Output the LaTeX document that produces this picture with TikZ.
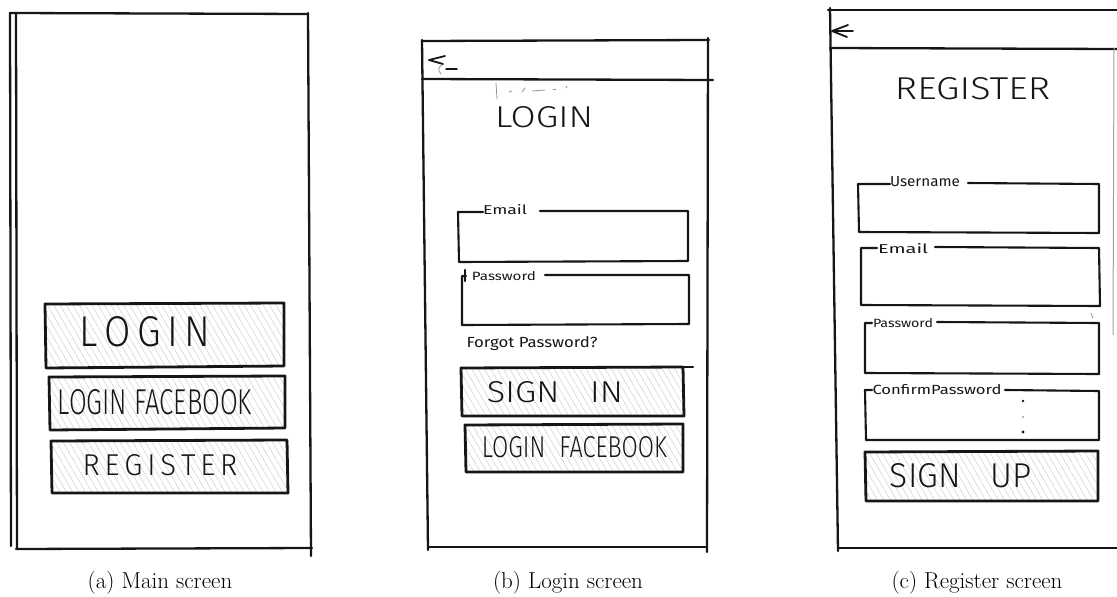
\documentclass[tikz,border=0pt]{standalone}
\usepackage{fontspec}
\usepackage{graphicx}
\usetikzlibrary{patterns.meta}
\IfFontExistsTF{Fira Sans Light}
  {\newfontfamily\hand{Fira Sans Light}}
  {\newfontfamily\hand{lmmonolt10-regular.otf}}
\newfontfamily\handsmall{Fira Sans}
\definecolor{inkc}{HTML}{161616}
\definecolor{hatchc}{HTML}{C6C6C6}
% handwritten lettering squeezed to a given width and cap height
\newcommand\hw[3]{\resizebox{#1pt}{#2pt}{\hand #3}}
% small field captions, written with a slightly heavier pen
\newcommand\hws[3]{\resizebox{#1pt}{#2pt}{\handsmall #3}}
\tikzset{
  ink/.style={draw=inkc, line cap=round, line join=round},
  frameline/.style={ink, line width=2.3pt},
  fieldline/.style={ink, line width=2.1pt},
  faint/.style={draw=inkc!45, line width=0.8pt, line cap=round},
  buttonbox/.style={ink, line width=2.8pt,
    pattern={Lines[angle=120,distance=5.5pt,line width=0.4pt]}, pattern color=hatchc},
  lbl/.style={inner sep=0pt, text=inkc},
  caption/.style={inner sep=0pt, anchor=base, font=\fontsize{23}{28}\selectfont}
}
\begin{document}
\begin{tikzpicture}[x=1pt, y=-1pt]
\useasboundingbox (0,0) rectangle (1117,597);

% ---------------- (a) main screen ----------------
\draw[frameline] (10,13) -- (11,546);
\draw[frameline] (16,14) -- (17,549);
\draw[frameline] (10,13) -- (308,14);
\draw[frameline] (308,13) -- (311,556);
\draw[frameline] (16,549) -- (312,548);

\draw[buttonbox] (45,304) -- (284,303) -- (284,366) -- (46,368) -- cycle;
\draw[buttonbox] (49,377) -- (285,376) -- (285,428) -- (50,430) -- cycle;
\draw[buttonbox] (51,441) -- (287,440) -- (288,493) -- (52,493) -- cycle;
\node[lbl] (aLogin) at (145,332) {\hw{130}{30}{L\,O\,G\,I\,N}};
\node[lbl] (aFacebook) at (155,402.5) {\hw{194}{25}{LOGIN FACEBOOK}};
\node[lbl] (aRegister) at (160,465.5) {\hw{155}{21}{R\,E\,G\,I\,S\,T\,E\,R}};

\node[caption] (capA) at (160,588) {(a) Main screen};

% ---------------- (b) login screen ----------------
\draw[frameline] (422,41) -- (709,40);
\draw[frameline] (422,40) -- (428,550);
\draw[frameline] (708,38) -- (707,552);
\draw[frameline] (422,79) -- (713,80);
\draw[frameline] (428,547) -- (707,547);
% back arrow
\draw[ink, line width=1.8pt] (445,56) -- (429,60) -- (443,64);
\draw[ink, line width=1.5pt] (446,69) -- (457,69);
\draw[faint] (442,65) .. controls (438,67) and (438,71) .. (441,74);
% erased scribbles above the title
\draw[faint] (496,83) -- (497,99);
\draw[faint] (509,92) -- (512,91);
\draw[faint] (522,92) -- (525,88);
\draw[faint] (532,91) -- (545,90);
\draw[faint] (553,89) -- (556,89);
\draw[faint] (566,88) -- (567,86);
\node[lbl] (bTitle) at (544,117.5) {\hw{98}{21}{LOGIN}};

% email field
\draw[fieldline] (483,212) -- (458,212) -- (459,262) -- (688,261) -- (688,211) -- (540,211);
\node[lbl] (bEmail) at (505,210) {\hws{44}{10}{Email}};
% password field
\draw[fieldline] (465,270) -- (465,281);
\draw[fieldline] (466,276) -- (462,276) -- (462,325) -- (689,324) -- (689,275) -- (545,275);
\node[lbl] (bPassword) at (504,276) {\hws{64}{9}{Password}};
\node[lbl] (bForgot) at (532,344) {\hws{131}{11}{Forgot Password?}};

\draw[buttonbox] (461,368) -- (683,367) -- (684,416) -- (462,416) -- cycle;
\draw[fieldline] (683,367) -- (693,367);
\node[lbl] (bSignIn) at (555,392.5) {\hw{136}{21}{SIGN\hspace{0.9em}IN}};
\draw[buttonbox] (465,425) -- (683,424) -- (683,472) -- (466,472) -- cycle;
\node[lbl] (bFacebook) at (574.5,447.5) {\hw{185}{21}{LOGIN\hspace{0.6em}FACEBOOK}};

\node[caption] (capB) at (568,588) {(b) Login screen};

% ---------------- (c) register screen ----------------
\draw[frameline] (828,10) -- (1117,10);
\draw[frameline] (830,8) -- (838,551);
\draw[frameline] (830,48) -- (1117,49);
\draw[frameline] (838,548) -- (1117,548);
\draw[draw=inkc!40, line width=1pt] (1114,48) -- (1113,335);
% back arrow
\draw[ink, line width=1.8pt] (848,25) -- (832,31) -- (847,37);
\draw[ink, line width=1.5pt] (834,31) -- (853,31);
\node[lbl] (cTitle) at (972.5,89) {\hw{155}{22}{REGISTER}};

% username field
\draw[fieldline] (890,184) -- (858,184) -- (859,232) -- (1099,233) -- (1099,184) -- (968,183);
\node[lbl] (cUser) at (925,182) {\hws{70}{10}{Username}};
% email field
\draw[fieldline] (877,248) -- (861,248) -- (861,305) -- (1100,306) -- (1099,248) -- (935,247);
\node[lbl] (cEmail) at (903,249) {\hws{50}{10}{Email}};
% password field
\draw[fieldline] (872,323) -- (865,323) -- (865,373) -- (1099,374) -- (1099,323) -- (937,322);
\node[lbl] (cPassword) at (903,323) {\hws{60}{9}{Password}};
\draw[faint] (1091,313) -- (1093,318);
% confirm password field
\draw[fieldline] (872,390) -- (865,390) -- (866,440) -- (1099,440) -- (1099,391) -- (1005,390);
\node[lbl] (cConfirm) at (937,390) {\hws{129}{10}{ConfirmPassword}};
\fill[inkc] (1023,401) circle (1.3);
\fill[inkc!60] (1023,417) circle (0.9);
\fill[inkc] (1023,432) circle (1.6);

\draw[buttonbox] (865,452) -- (1098,451) -- (1098,501) -- (866,501) -- cycle;
\node[lbl] (cSignUp) at (961,476) {\hw{142}{24}{SIGN\hspace{0.9em}UP}};

\node[caption] (capC) at (977,588) {(c) Register screen};
\end{tikzpicture}
\end{document}
